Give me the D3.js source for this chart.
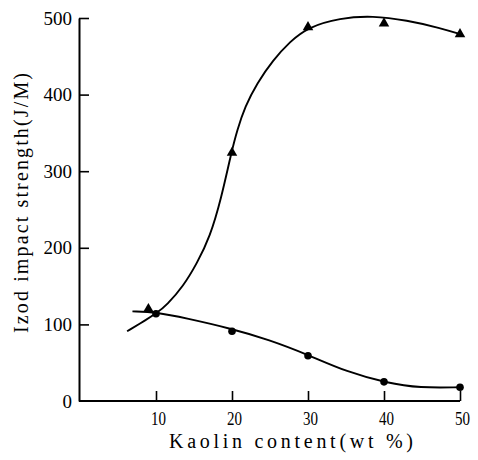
<!DOCTYPE html>
<html><head><meta charset="utf-8">
<script src="https://cdn.jsdelivr.net/npm/d3@7"></script>
<style>
html,body{margin:0;padding:0;background:#fff;}
svg{display:block;font-family:"Liberation Serif","DejaVu Serif",serif;}
</style></head>
<body><div id="chart"></div>
<script>
// Measured data (markers)
const triX = [9, 20, 30, 40, 50];
const triY = [120, 324, 488, 493, 479];
const circX = [10, 20, 30, 40, 50];
const circY = [114, 91, 59, 25, 18];
// Hand-drawn fit curves
const triCurveX = [6.2, 8.7, 10.1, 11.4, 13.6, 15.4, 17.1, 18.6, 19.9, 20.7, 21.7, 23.3, 25.4, 27.6, 30.0, 34.2, 38.5, 43.0, 47.4, 50.3];
const triCurveY = [91, 106, 115, 125, 150, 180, 214, 265, 324, 354, 384, 415, 445, 469, 488, 500, 503, 497, 487, 478];
const circCurveX = [6.9, 10, 14, 19.7, 24.9, 30.1, 35.1, 40.4, 44.7, 50];
const circCurveY = [117, 116, 108, 95, 80, 60, 38, 23.5, 17, 18];
const xTicks = [10, 20, 30, 40, 50];
const yTicks = [0, 100, 200, 300, 400, 500];
const xTitle = "Kaolin content(wt %)";
const yTitle = "Izod impact strength(J/M)";

const W = 478, H = 460;
const svg = d3.select("#chart").append("svg").attr("width", W).attr("height", H);

const x = d3.scaleLinear().domain([0, 50]).range([80, 460]);
const y = d3.scaleLinear().domain([0, 500]).range([401, 18]);

// axes
const gx = svg.append("g").attr("transform", `translate(0,${y(0)})`)
  .call(d3.axisBottom(x).tickValues(xTicks).tickSizeInner(-10).tickSizeOuter(0).tickPadding(11));
gx.select(".domain").attr("d", `M${x(0) - 1},0H${x(50)}`);
const gy = svg.append("g").attr("transform", `translate(${x(0) - 1},0)`)
  .call(d3.axisLeft(y).tickValues(yTicks).tickSizeInner(-10).tickSizeOuter(0).tickPadding(7));
[gx, gy].forEach(g => {
  g.select(".domain").attr("stroke", "#000").attr("stroke-width", 2);
  g.selectAll(".tick line").attr("stroke", "#000").attr("stroke-width", 1.6);
  g.selectAll(".tick text").attr("fill", "#000").attr("font-size", 18)
    .attr("font-family", "Liberation Serif, serif");
});
gy.selectAll(".tick text").attr("font-size", 19);
gx.selectAll(".tick text").attr("dx", 2).attr("textLength", 15).attr("lengthAdjust", "spacingAndGlyphs");
gy.selectAll(".tick").filter(d => d === 0).select("line").remove();

// titles
svg.append("text").attr("x", 291).attr("y", 448).attr("text-anchor", "middle")
  .attr("font-size", 20).attr("fill", "#000")
  .attr("textLength", 244).attr("lengthAdjust", "spacing").text(xTitle);
svg.append("text").attr("transform", `translate(28,203) rotate(-90)`)
  .attr("text-anchor", "middle").attr("font-size", 20).attr("fill", "#000")
  .attr("textLength", 260).attr("lengthAdjust", "spacing").text(yTitle);

// curves
const lg = d3.line().x(d => x(d[0])).y(d => y(d[1])).curve(d3.curveBasis);
svg.append("path").attr("d", lg(d3.zip(triCurveX, triCurveY)))
  .attr("fill", "none").attr("stroke", "#000").attr("stroke-width", 1.9);
svg.append("path").attr("d", lg(d3.zip(circCurveX, circCurveY)))
  .attr("fill", "none").attr("stroke", "#000").attr("stroke-width", 1.9);

// markers
const tri = d3.symbol().type(d3.symbolTriangle).size(48);
svg.selectAll("path.tri").data(d3.zip(triX, triY)).join("path").attr("class", "tri")
  .attr("transform", d => `translate(${x(d[0])},${y(d[1])})`).attr("d", tri).attr("fill", "#000");
svg.selectAll("circle.pt").data(d3.zip(circX, circY)).join("circle").attr("class", "pt")
  .attr("cx", d => x(d[0])).attr("cy", d => y(d[1])).attr("r", 3.8).attr("fill", "#000");
</script></body></html>
